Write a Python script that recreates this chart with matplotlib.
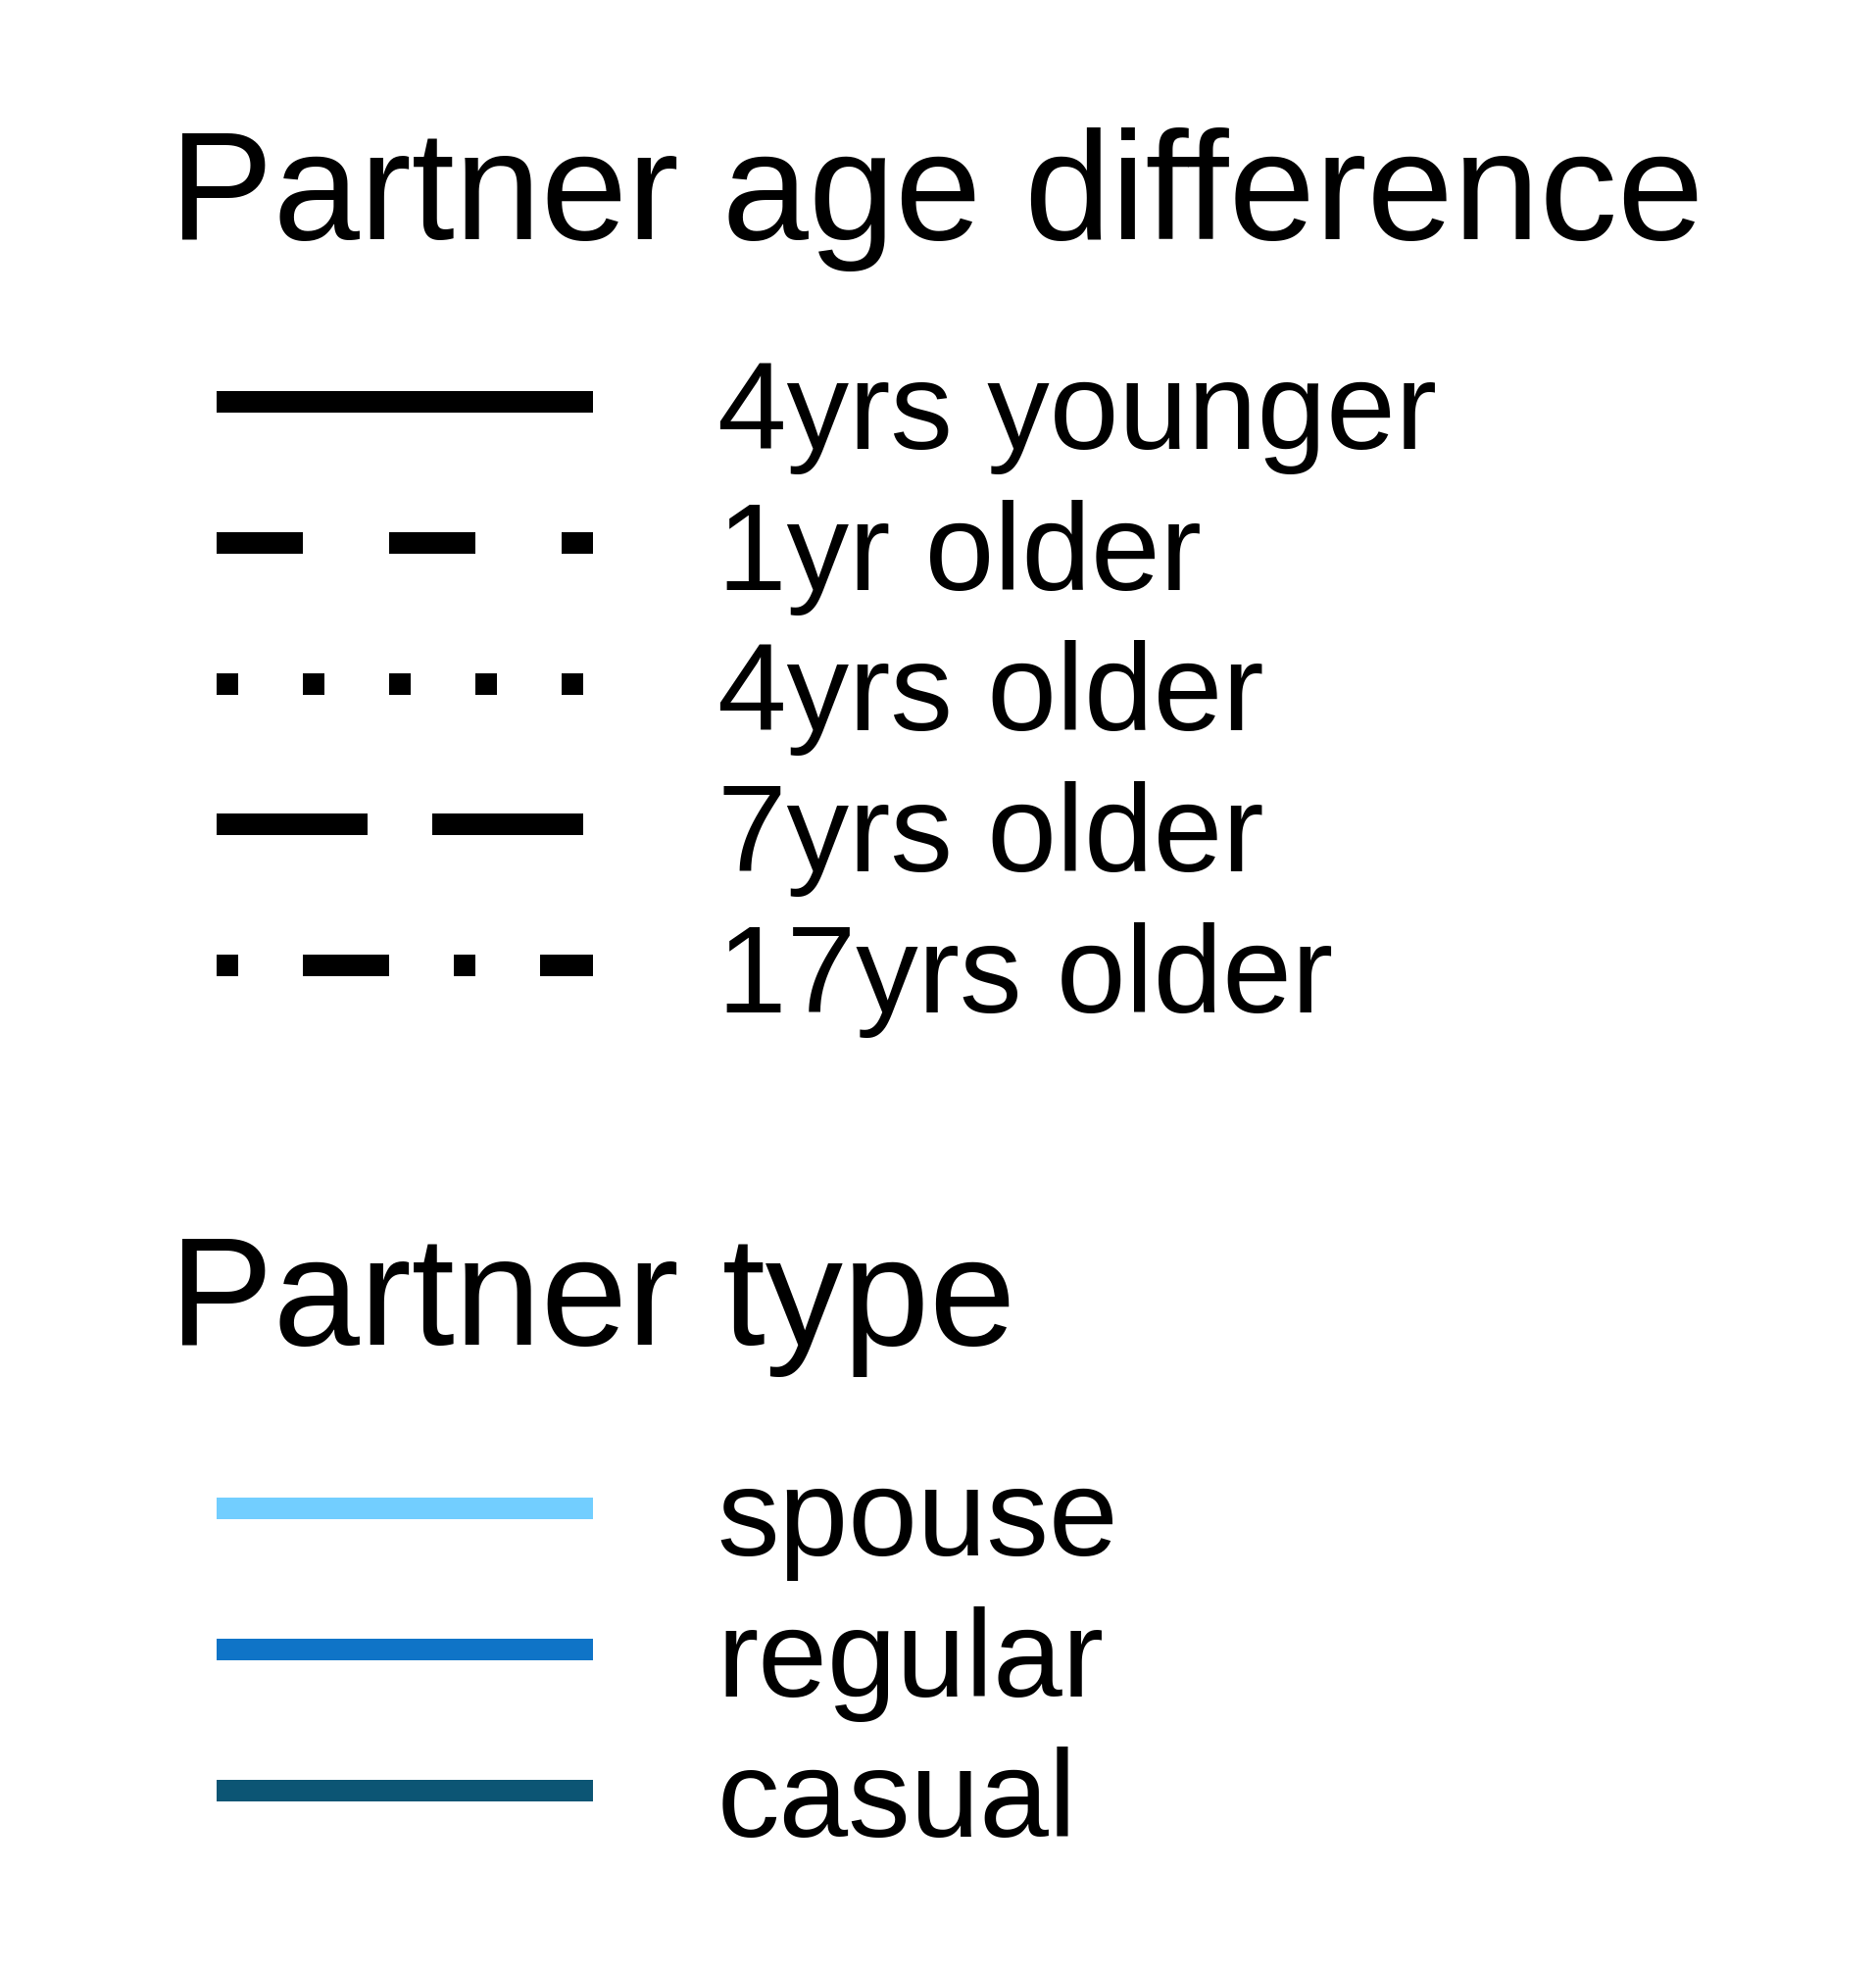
import matplotlib.pyplot as plt
from matplotlib.lines import Line2D

# legend entries
age_labels = ['4yrs younger', '1yr older', '4yrs older', '7yrs older', '17yrs older']
type_labels = ['spouse', 'regular', 'casual']

# ggplot-like linetypes: solid, dashed, dotted, longdash, dotdash
age_dashes = ['solid', (0, (4, 4)), (0, (1, 3)), (0, (7, 3)), (0, (1, 3, 4, 3))]
type_colors = ['#72CEFF', '#0F74C7', '#0C5574']

DPI = 100
W, H = 1914, 2010


def pt(px):
    return px * 72 / DPI


plt.rcParams['font.family'] = ['Liberation Sans', 'DejaVu Sans']

fig = plt.figure(figsize=(W / DPI, H / DPI), dpi=DPI)
fig.patch.set_facecolor('white')

label_fs = pt(127)
title_fs = pt(158.5)
lw = pt(22)

age_handles = [Line2D([], [], color='black', linewidth=lw, linestyle=ls,
                      solid_capstyle='butt', dash_capstyle='butt')
               for ls in age_dashes]
type_handles = [Line2D([], [], color=c, linewidth=lw, solid_capstyle='butt')
                for c in type_colors]

legend_opts = dict(loc='upper left', frameon=False, fontsize=label_fs,
                   handlelength=3.02, handletextpad=1.0, labelspacing=0.174,
                   borderpad=0, borderaxespad=0, handleheight=0.88)

fig.text(173 / W, 1 - 244 / H, 'Partner age difference', fontsize=title_fs,
         va='baseline', ha='left')
fig.legend(age_handles, age_labels, bbox_to_anchor=(221 / W, 1 - 362 / H),
           **legend_opts)

fig.text(173 / W, 1 - 1372 / H, 'Partner type', fontsize=title_fs,
         va='baseline', ha='left')
fig.legend(type_handles, type_labels, bbox_to_anchor=(221 / W, 1 - 1491 / H),
           **legend_opts)

fig.savefig('out.png', dpi=DPI, facecolor='white')
